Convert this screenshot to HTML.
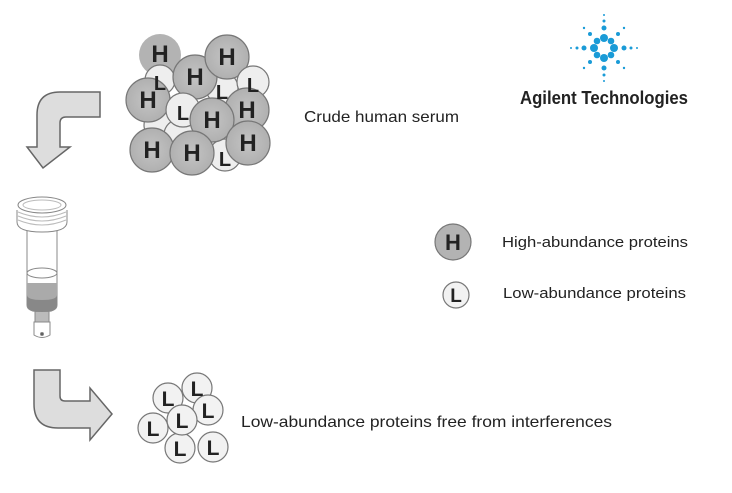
<!DOCTYPE html>
<html><head><style>body{margin:0;background:#fff}svg{display:block}text{font-family:"Liberation Sans",sans-serif}</style></head>
<body>
<svg width="732" height="493" viewBox="0 0 732 493" xmlns="http://www.w3.org/2000/svg">
<defs>
<radialGradient id="g"><stop offset="0" stop-color="#c4c4c4"/><stop offset="1" stop-color="#b0b0b0"/></radialGradient>
</defs>
<!-- logo -->
<g fill="#1a9bd7">
<circle cx="604" cy="38" r="4"/><circle cx="604" cy="58" r="4"/><circle cx="594" cy="48" r="4"/><circle cx="614" cy="48" r="4"/>
<circle cx="597" cy="41" r="3.3"/><circle cx="611" cy="41" r="3.3"/><circle cx="597" cy="55" r="3.3"/><circle cx="611" cy="55" r="3.3"/>
<circle cx="604" cy="28" r="2.5"/><circle cx="604" cy="68" r="2.5"/><circle cx="584" cy="48" r="2.5"/><circle cx="624" cy="48" r="2.5"/>
<circle cx="590" cy="34" r="2"/><circle cx="618" cy="34" r="2"/><circle cx="590" cy="62" r="2"/><circle cx="618" cy="62" r="2"/>
<circle cx="604" cy="21" r="1.5"/><circle cx="604" cy="75" r="1.5"/><circle cx="577" cy="48" r="1.5"/><circle cx="631" cy="48" r="1.5"/>
<circle cx="604" cy="15" r="1"/><circle cx="604" cy="81" r="1"/><circle cx="571" cy="48" r="1"/><circle cx="637" cy="48" r="1"/>
<circle cx="584" cy="28" r="1.2"/><circle cx="624" cy="28" r="1.2"/><circle cx="584" cy="68" r="1.2"/><circle cx="624" cy="68" r="1.2"/>
</g>
<text x="520" y="104" font-size="18" font-weight="bold" fill="#222" textLength="168" lengthAdjust="spacingAndGlyphs">Agilent Technologies</text>

<!-- arrow 1 -->
<path d="M100 92 L100 117 L66 117 Q60 117 60 123 L60 147 L70 147 L43 168 L27 147 L37 147 L37 115 Q37 92 60 92 Z" fill="#ddd" stroke="#666" stroke-width="1.5"/>
<!-- arrow 2 -->
<path d="M34 370 L60 370 L60 396 Q60 401 65 401 L90 401 L90 388 L112 414 L90 440 L90 428 L58 428 Q34 428 34 404 Z" fill="#ddd" stroke="#666" stroke-width="1.5"/>

<!-- crude cluster -->
<g stroke="#777" stroke-width="1.2" font-weight="bold" font-size="24" text-anchor="middle" fill="#222">
<g fill="#eee"><circle cx="222" cy="88" r="16"/><circle cx="225" cy="155" r="16"/><circle cx="160" cy="125" r="16"/><circle cx="180" cy="135" r="16"/></g>
<circle cx="160" cy="55" r="21" fill="#b3b3b3" stroke="none"/>
<circle cx="160" cy="80" r="15" fill="#eee"/>
<circle cx="195" cy="77" r="22" fill="url(#g)"/>
<circle cx="227" cy="57" r="22" fill="url(#g)"/>
<circle cx="253" cy="82" r="16" fill="#eee"/>
<circle cx="148" cy="100" r="22" fill="url(#g)"/>
<circle cx="183" cy="110" r="17" fill="#eee"/>
<circle cx="247" cy="110" r="22" fill="url(#g)"/>
<circle cx="212" cy="120" r="22" fill="url(#g)"/>
<circle cx="152" cy="150" r="22" fill="url(#g)"/>
<circle cx="192" cy="153" r="22" fill="url(#g)"/>
<circle cx="248" cy="143" r="22" fill="url(#g)"/>
<g stroke="none">
<text x="160" y="62">H</text><text x="160" y="90" font-size="20">L</text><text x="195" y="85">H</text><text x="227" y="65">H</text>
<text x="253" y="92" font-size="20">L</text><text x="222" y="99" font-size="20">L</text><text x="148" y="108">H</text><text x="183" y="120" font-size="20">L</text>
<text x="247" y="118">H</text><text x="212" y="128">H</text><text x="152" y="158">H</text><text x="192" y="161">H</text><text x="225" y="166" font-size="20">L</text><text x="248" y="151">H</text>
</g>
</g>
<text x="304" y="122" font-size="16" fill="#222" textLength="155" lengthAdjust="spacingAndGlyphs">Crude human serum</text>

<!-- column -->
<g stroke="#888" stroke-width="1" fill="#fff">
<path d="M27 228 L27 305 Q27 312 42 312 Q57 312 57 305 L57 228 Z"/>
<path d="M27 283 L27 305 Q27 312 42 312 Q57 312 57 305 L57 283 Z" fill="#aaa" stroke="none"/>
<path d="M27 295 L27 305 Q27 312 42 312 Q57 312 57 305 L57 295 Q57 300 42 300 Q27 300 27 295Z" fill="#888" stroke="none"/>
<ellipse cx="42" cy="273" rx="15" ry="5"/>
<path d="M35 312 L35 322 L49 322 L49 312" fill="#bbb"/>
<path d="M34 322 L34 335 Q42 340 50 335 L50 322 Z"/>
<circle cx="42" cy="334" r="1.5" fill="#555"/>
<path d="M17 210 L17 222 Q17 232 42 232 Q67 232 67 222 L67 210" />
<ellipse cx="42" cy="205" rx="24" ry="8"/>
<path d="M18 212 Q42 222 66 212 M18 216 Q42 226 66 216 M18 220 Q42 230 66 220" fill="none" stroke="#bbb"/>
<ellipse cx="42" cy="205" rx="19" ry="5" stroke="#bbb"/>
</g>

<!-- legend -->
<circle cx="453" cy="242" r="18" fill="#b3b3b3" stroke="#777" stroke-width="1.2"/>
<text x="453" y="250" font-size="22" font-weight="bold" text-anchor="middle" fill="#222">H</text>
<circle cx="456" cy="295" r="13" fill="#f2f2f2" stroke="#777" stroke-width="1.2"/>
<text x="456" y="302" font-size="19" font-weight="bold" text-anchor="middle" fill="#222">L</text>
<text x="502" y="247" font-size="15" fill="#222" textLength="186" lengthAdjust="spacingAndGlyphs">High-abundance proteins</text>
<text x="503" y="298" font-size="15" fill="#222" textLength="183" lengthAdjust="spacingAndGlyphs">Low-abundance proteins</text>

<!-- L cluster -->
<g stroke="#777" stroke-width="1.2" fill="#f2f2f2">
<circle cx="168" cy="398" r="15"/><circle cx="197" cy="388" r="15"/><circle cx="208" cy="410" r="15"/>
<circle cx="153" cy="428" r="15"/><circle cx="180" cy="448" r="15"/><circle cx="213" cy="447" r="15"/><circle cx="182" cy="420" r="15"/>
</g>
<g font-size="21" font-weight="bold" text-anchor="middle" fill="#222">
<text x="168" y="406">L</text><text x="197" y="396">L</text><text x="208" y="418">L</text><text x="153" y="436">L</text>
<text x="180" y="456">L</text><text x="213" y="455">L</text><text x="182" y="428">L</text>
</g>
<text x="241" y="427" font-size="16" fill="#222" textLength="371" lengthAdjust="spacingAndGlyphs">Low-abundance proteins free from interferences</text>
</svg>
</body></html>
